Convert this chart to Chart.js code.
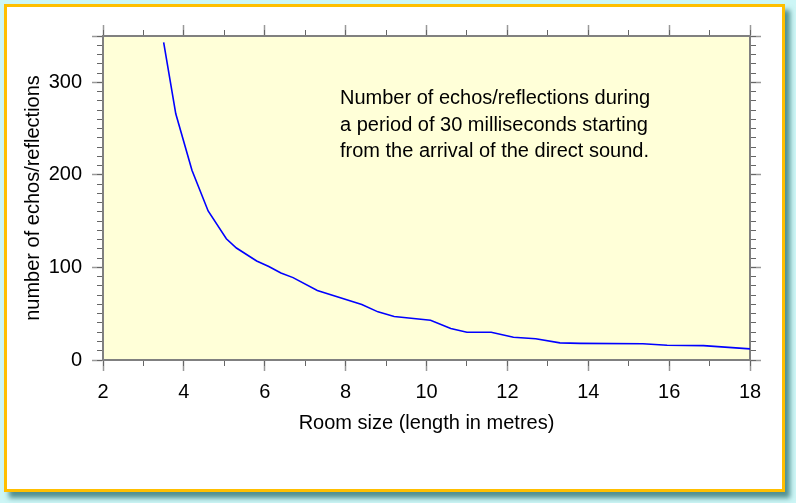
<!DOCTYPE html>
<html>
<head>
<meta charset="utf-8">
<title>Echos vs room size</title>
<script src="https://cdn.jsdelivr.net/npm/chart.js@4.4.1/dist/chart.umd.min.js"></script>
<style>
  html, body { margin: 0; padding: 0; }
  body { width: 796px; height: 503px; background: #cdf6f6; position: relative; overflow: hidden; }
  .frame {
    position: absolute; left: 4px; top: 4px; width: 775px; height: 482px;
    background: #fff; border: 3px solid #ffbf00;
    box-shadow: 5px 6px 5px rgba(40, 110, 110, 0.75);
  }
  canvas { position: absolute; left: 0; top: 0; }
</style>
</head>
<body>
<div class="frame"></div>
<canvas id="chart" width="796" height="503"></canvas>
<script>
// Data
const roomSize = [3.5, 3.8, 4.2, 4.6, 5.05, 5.3, 5.8, 6.1, 6.4, 6.7, 7.3, 8.4, 8.8, 9.2, 10.1, 10.6, 11.0, 11.6, 12.15, 12.7, 13.3, 13.8, 15.35, 15.95, 16.85, 18];
const echoCount = [343, 266, 205, 161, 131, 121, 107, 101, 94, 89, 75, 60, 52, 47, 43, 34, 30, 30, 24.5, 23, 18.5, 18, 17.5, 16, 15.5, 12];

const xTickLabels = [2, 4, 6, 8, 10, 12, 14, 16, 18];
const yTickLabels = [0, 100, 200, 300];
const yMajorTicks = [0, 100, 200, 300, 350];

const noteLines = [
  'Number of echos/reflections during',
  'a period of 30 milliseconds starting',
  'from the arrival of the direct sound.'
];

const fontFamily = '"Liberation Sans", Arial, Helvetica, sans-serif';
const labelFont = { family: fontFamily, size: 20 };

// yellow plot area + text note
const plotDecor = {
  id: 'plotDecor',
  beforeDraw(chart) {
    const { ctx, chartArea: a } = chart;
    ctx.save();
    ctx.fillStyle = '#ffffd8';
    ctx.fillRect(a.left, a.top, a.right - a.left, a.bottom - a.top);
    ctx.restore();
  },
  afterDraw(chart) {
    const ctx = chart.ctx;
    ctx.save();
    ctx.font = '20px ' + fontFamily;
    ctx.fillStyle = '#000';
    ctx.textBaseline = 'alphabetic';
    noteLines.forEach((line, i) => ctx.fillText(line, 340, 104 + i * 26.5));
    ctx.restore();
  }
};

function majorAxis(position, ticksList, size, opts) {
  return Object.assign({
    type: 'linear',
    position: position,
    weight: 1,
    afterBuildTicks: s => { s.ticks = ticksList.map(v => ({ value: v })); },
    afterFit: s => {
      if (position === 'left' || position === 'right') s.width = size;
      else s.height = size;
    },
    grid: { drawOnChartArea: false, tickLength: 11, tickColor: '#999', tickWidth: 1.5 },
    border: { color: '#808080', width: 2 },
    ticks: { display: false, autoSkip: false }
  }, opts);
}

function minorAxis(position, step, min, max) {
  return {
    type: 'linear',
    position: position,
    weight: 0,
    min: min,
    max: max,
    afterFit: s => {
      if (position === 'left' || position === 'right') s.width = 0;
      else s.height = 0;
    },
    grid: { drawOnChartArea: false, tickLength: 6, tickColor: '#666', tickWidth: 1 },
    border: { display: false },
    ticks: { display: false, stepSize: step, autoSkip: false }
  };
}

const points = roomSize.map((x, i) => ({ x: x, y: echoCount[i] }));

new Chart(document.getElementById('chart'), {
  type: 'line',
  data: {
    datasets: [{
      data: points,
      xAxisID: 'x',
      yAxisID: 'y',
      borderColor: '#0000ff',
      borderWidth: 1.6,
      pointRadius: 0,
      tension: 0,
      fill: false
    }]
  },
  options: {
    responsive: false,
    maintainAspectRatio: false,
    animation: false,
    layout: { padding: 0 },
    plugins: { legend: { display: false }, tooltip: { enabled: false } },
    scales: {
      x: majorAxis('bottom', xTickLabels, 143, {
        min: 2, max: 18,
        ticks: { display: true, autoSkip: false, maxRotation: 0, color: '#000', font: labelFont, padding: 9 },
        title: { display: true, text: 'Room size (length in metres)', color: '#000', font: labelFont, padding: { top: 0, bottom: 68 } }
      }),
      xMinor: minorAxis('bottom', 1, 2, 18),
      xTop: majorAxis('top', xTickLabels, 36, { min: 2, max: 18 }),
      xTopMinor: minorAxis('top', 1, 2, 18),
      y: majorAxis('left', yMajorTicks, 103, {
        min: 0, max: 350,
        ticks: {
          display: true, autoSkip: false, color: '#000', font: labelFont, padding: 10,
          callback: v => yTickLabels.includes(v) ? String(v) : ''
        },
        title: { display: true, text: 'number of echos/reflections', color: '#000', font: labelFont, padding: { top: 21, bottom: 0 } }
      }),
      yMinor: minorAxis('left', 10, 0, 350),
      yRight: majorAxis('right', yMajorTicks, 46, { min: 0, max: 350 }),
      yRightMinor: minorAxis('right', 10, 0, 350)
    }
  },
  plugins: [plotDecor]
});
</script>
</body>
</html>
